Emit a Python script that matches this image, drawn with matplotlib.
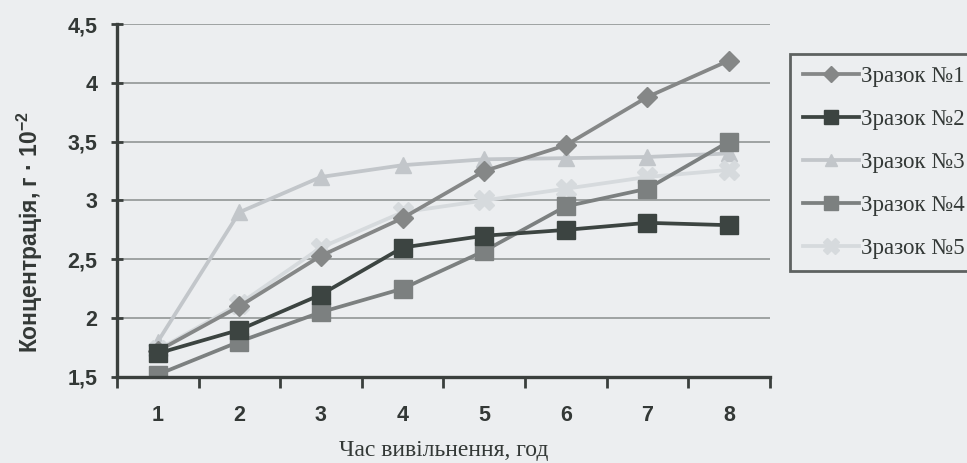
import matplotlib.pyplot as plt
import numpy as np

hours = [1, 2, 3, 4, 5, 6, 7, 8]
zrazok1 = [1.72, 2.10, 2.53, 2.85, 3.25, 3.47, 3.88, 4.19]
zrazok2 = [1.70, 1.90, 2.20, 2.60, 2.70, 2.75, 2.81, 2.79]
zrazok3 = [1.80, 2.90, 3.20, 3.30, 3.35, 3.36, 3.37, 3.40]
zrazok4 = [1.52, 1.80, 2.05, 2.25, 2.57, 2.95, 3.10, 3.50]
zrazok5 = [1.73, 2.12, 2.60, 2.90, 3.00, 3.10, 3.20, 3.26]
labels = ['Зразок №1', 'Зразок №2', 'Зразок №3', 'Зразок №4', 'Зразок №5']
yticks = [1.5, 2, 2.5, 3, 3.5, 4, 4.5]
ytick_labels = ['1,5', '2', '2,5', '3', '3,5', '4', '4,5']

bg = '#eceef0'
fig = plt.figure(figsize=(9.67, 4.63), dpi=100, facecolor=bg)
ax = fig.add_axes([0.121, 0.186, 0.675, 0.762])
ax.set_facecolor(bg)

styles = [
    dict(color='#858787', marker='D', markersize=10),
    dict(color='#3c4441', marker='s', markersize=12.5),
    dict(color='#c2c6ca', marker='^', markersize=11),
    dict(color='#7c8080', marker='s', markersize=12.5),
    dict(color='#d6dadd', marker='X', markersize=14),
]
series = [zrazok1, zrazok2, zrazok3, zrazok4, zrazok5]
# light lines first, darker ones on top like in the scan
order = [2, 4, 3, 0, 1]
handles = {}
for i in order:
    h, = ax.plot(hours, series[i], lw=2.7, label=labels[i], **styles[i])
    handles[i] = h

ax.set_xlim(0.5, 8.5)
ax.set_ylim(1.5, 4.5)
ax.set_yticks(yticks)
ax.set_yticklabels(ytick_labels)
ax.set_xticks(hours)
ax.set_xticks(np.arange(0.5, 9.0, 1.0), minor=True)
ax.tick_params(axis='x', which='major', length=0, pad=20)
ax.tick_params(axis='x', which='minor', length=8, width=2, color='#3a3f3d', direction='out')
ax.tick_params(axis='y', length=8, width=2, color='#3a3f3d', direction='inout', pad=10)
for lab in ax.get_xticklabels() + ax.get_yticklabels():
    lab.set_fontweight('bold')
    lab.set_fontsize(15.5)
    lab.set_color('#333836')
    lab.set_family('Liberation Sans')

ax.grid(axis='y', color='#8a8e8e', lw=1.1)
ax.set_axisbelow(True)
for s in ['top', 'right']:
    ax.spines[s].set_visible(False)
for s in ['left', 'bottom']:
    ax.spines[s].set_linewidth(2.4)
    ax.spines[s].set_color('#3a3f3d')

ax.set_ylabel('Концентрація, г · 10$^{\\mathregular{-2}}$', fontsize=16.5, fontweight='bold',
              family='Liberation Sans', color='#333836')
ax.yaxis.set_label_coords(-0.11, 0.41)
ax.set_xlabel('Час вивільнення, год', fontsize=17, family='Liberation Serif',
              color='#333836', labelpad=10)

leg = fig.legend([handles[i] for i in range(5)], labels, loc='upper left',
                 bbox_to_anchor=(0.817, 0.884), frameon=True, fancybox=False,
                 prop={'family': 'Liberation Serif', 'size': 16.5},
                 labelspacing=0.95, handlelength=2.45, handletextpad=0.1,
                 borderpad=0.55, borderaxespad=0, markerscale=0.8)
leg.get_frame().set_edgecolor('#3a3f3d')
leg.get_frame().set_linewidth(2)
leg.get_frame().set_facecolor(bg)
for t in leg.get_texts():
    t.set_color('#333836')

fig.savefig('out.png', dpi=100, facecolor=bg)
